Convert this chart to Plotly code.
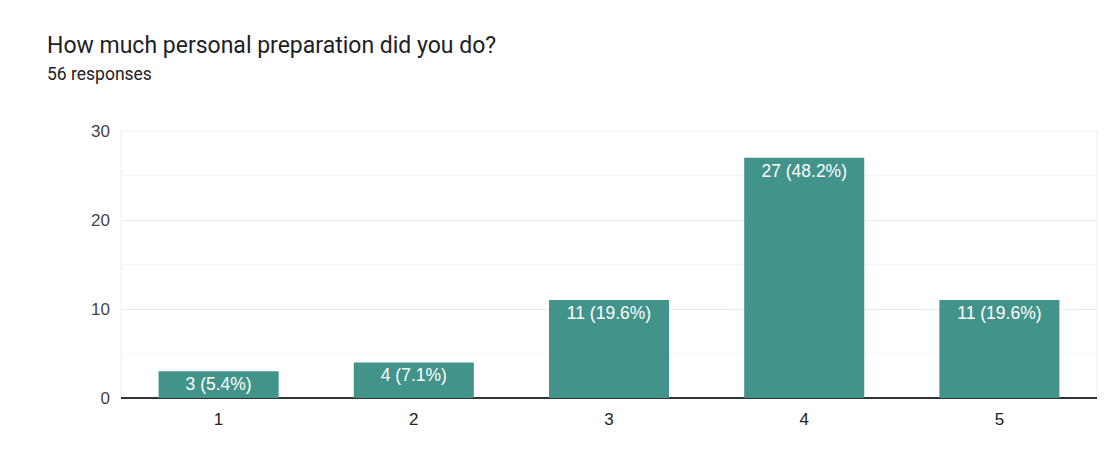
import plotly.graph_objects as go

# Survey answers
categories = ["1", "2", "3", "4", "5"]
counts = [3, 4, 11, 27, 11]
total = 56

labels = [f"{c} ({c / total * 100:.1f}%)" for c in counts]

fig = go.Figure(go.Bar(
    x=categories,
    y=counts,
    text=labels,
    textposition="inside",
    insidetextanchor="end",
    textangle=0,
    constraintext="none",
    textfont=dict(family="Liberation Sans, Arial", size=17.5, color="white"),
    marker=dict(color="#42948a", line=dict(width=0)),
    width=0.615,
    hoverinfo="skip",
))

title_x = (45 - 121) / 976

fig.update_layout(
    width=1112,
    height=451,
    margin=dict(l=121, r=15, t=131, b=53),
    paper_bgcolor="white",
    plot_bgcolor="white",
    showlegend=False,
    font=dict(family="Liberation Sans, Arial", size=17, color="#444444"),
    annotations=[
        dict(text="How much personal preparation did you do?", xref="paper", yref="paper",
             x=title_x, y=1, yshift=86, xanchor="left", yanchor="middle",
             showarrow=False, font=dict(family="Roboto", size=23, color="#202124")),
        dict(text="56 responses", xref="paper", yref="paper",
             x=title_x, y=1, yshift=57, xanchor="left", yanchor="middle",
             showarrow=False, font=dict(family="Roboto", size=17.5, color="#202124")),
    ],
)

fig.update_xaxes(
    type="category",
    showgrid=False,
    showline=False,
    ticks="",
    ticklabelstandoff=9,
    tickfont=dict(size=17, color="#222222"),
)

fig.update_yaxes(
    range=[0, 30],
    tickvals=[0, 10, 20, 30],
    showgrid=True,
    gridcolor="#ececec",
    gridwidth=1,
    minor=dict(tickvals=[5, 15, 25], showgrid=True, gridcolor="#f6f6f6", gridwidth=1),
    zeroline=True,
    zerolinecolor="#333333",
    zerolinewidth=1.5,
    showline=False,
    ticks="",
    ticklabelstandoff=10,
    tickfont=dict(size=17, color="#444444"),
)

# light frame around the plotting area
fig.add_shape(type="rect", xref="paper", yref="paper", x0=0, y0=0, x1=1, y1=1,
              line=dict(color="#eeeeee", width=1), layer="below")

# drop the default page margin so the figure sits at the window corner
fig.write_html("out.html", config={"displayModeBar": False},
               post_script="document.body.style.margin='0';")
